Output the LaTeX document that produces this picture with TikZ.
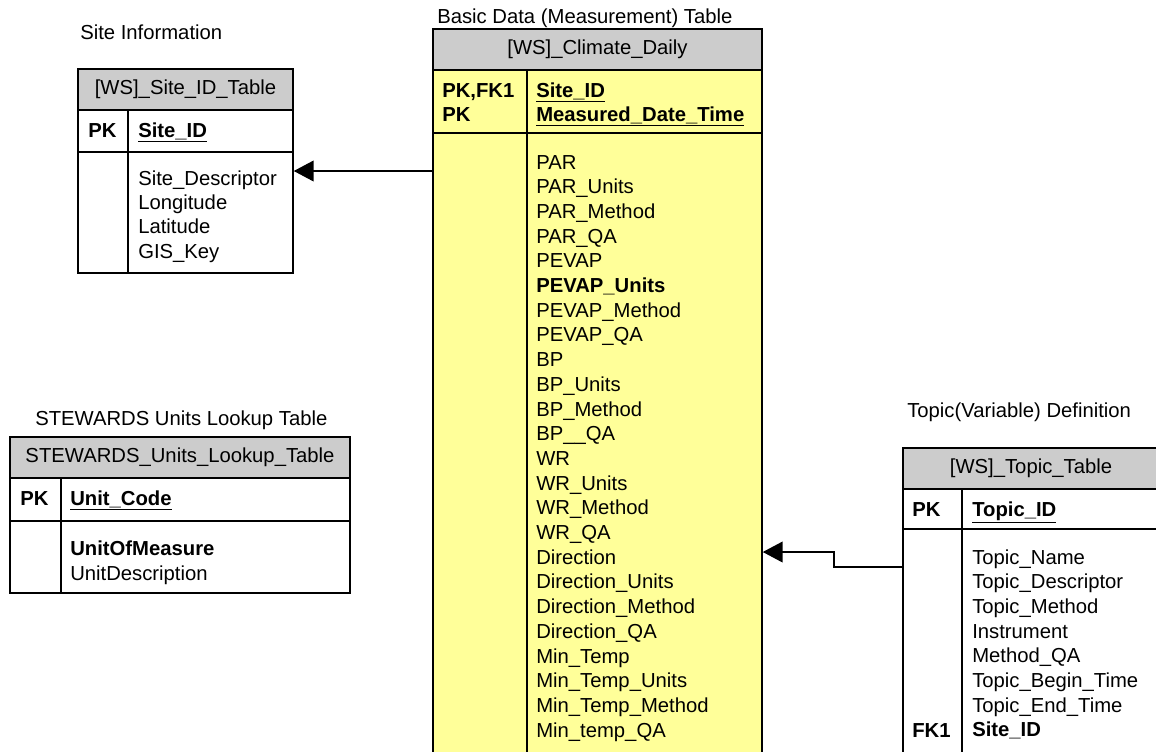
\documentclass[tikz,border=0pt]{standalone}
\usepackage{fontspec}
\setmainfont{Liberation Sans}
\usetikzlibrary{fit,arrows.meta}
\definecolor{hdrgray}{RGB}{204,204,204}
\definecolor{tblyellow}{RGB}{255,255,153}
\begin{document}
\begin{tikzpicture}[x=0.75pt,y=-0.75pt,
  cell/.style={draw=black,line width=1.1pt,inner sep=0pt},
  hdr/.style={cell,fill=hdrgray},
  ylw/.style={cell,fill=tblyellow},
  divl/.style={draw=black,line width=1.1pt},
  txt/.style={inner sep=0pt,anchor=base west,font=\fontsize{15.2}{18}\selectfont},
  ctxt/.style={inner sep=0pt,font=\fontsize{15.2}{18}\selectfont},
  conn/.style={line width=1.6pt,-{Triangle[length=15pt,width=15.5pt]}}]
\useasboundingbox (0,0) rectangle (1156,751);
\clip (0,0) rectangle (1156,751);

% ---------- Site table ----------
\node[txt] (sitetitle) at (80,39) {Site Information};
\node[hdr,fit={(78,69)(293,110)}] (sitehdr) {};
\node[cell,fit={(78,110)(293,152)}] (sitekey) {};
\node[cell,fit={(78,152)(293,273)}] (sitebody) {};
\draw[divl] (128,110) -- (128,273);
\node[ctxt] (sitehdrt) at (sitehdr.center) {[WS]\_Site\_ID\_Table};
\node[txt] (sitepk) at (88,137) {\textbf{PK}};
\node[txt] (sitepkf) at (138,137) {\textbf{\underline{Site\_ID}}};
\foreach \t [count=\i from 0] in {Site\_Descriptor,Longitude,Latitude,GIS\_Key}
  \node[txt] (sf\i) at (138,{185+24.4*\i}) {\t};

% ---------- Climate table ----------
\node[txt] (climtitle) at (437,23) {Basic Data (Measurement) Table};
\node[hdr,fit={(433,29)(762,70)}] (climhdr) {};
\node[ylw,fit={(433,70)(762,133)}] (climkey) {};
\node[ylw,fit={(433,133)(762,770)}] (climbody) {};
\draw[divl] (527,70) -- (527,770);
\node[ctxt] (climhdrt) at (climhdr.center) {[WS]\_Climate\_Daily};
\node[txt] (climpk1) at (442,97) {\textbf{PK,FK1}};
\node[txt] (climpk2) at (442,121) {\textbf{PK}};
\node[txt] (climpkf1) at (536,97) {\textbf{\underline{Site\_ID}}};
\node[txt] (climpkf2) at (536,121) {\textbf{\underline{Measured\_Date\_Time}}};
\foreach \t [count=\i from 0] in {PAR,PAR\_Units,PAR\_Method,PAR\_QA,PEVAP,{\textbf{PEVAP\_Units}},PEVAP\_Method,PEVAP\_QA,BP,BP\_Units,BP\_Method,BP\_\_QA,WR,WR\_Units,WR\_Method,WR\_QA,Direction,Direction\_Units,Direction\_Method,Direction\_QA,Min\_Temp,Min\_Temp\_Units,Min\_Temp\_Method,Min\_temp\_QA}
  \node[txt] (cf\i) at (536,{169+24.7*\i}) {\t};

% ---------- Units table ----------
\node[txt] (unittitle) at (35,425) {STEWARDS Units Lookup Table};
\node[hdr,fit={(10,437)(350,478)}] (unithdr) {};
\node[cell,fit={(10,478)(350,521)}] (unitkey) {};
\node[cell,fit={(10,521)(350,593)}] (unitbody) {};
\draw[divl] (61,478) -- (61,593);
\node[ctxt] (unithdrt) at (unithdr.center) {STEWARDS\_Units\_Lookup\_Table};
\node[txt] (unitpk) at (20,505) {\textbf{PK}};
\node[txt] (unitpkf) at (70,505) {\textbf{\underline{Unit\_Code}}};
\node[txt] (uf0) at (70,555) {\textbf{UnitOfMeasure}};
\node[txt] (uf1) at (70,580) {UnitDescription};

% ---------- Topic table ----------
\node[txt] (topictitle) at (907,417) {Topic(Variable) Definition};
\node[hdr,fit={(903,448)(1158,489)}] (topichdr) {};
\node[cell,fit={(903,489)(1158,529)}] (topickey) {};
\node[cell,fit={(903,529)(1158,770)}] (topicbody) {};
\draw[divl] (962,489) -- (962,770);
\node[ctxt] (topichdrt) at (1031,468.5) {[WS]\_Topic\_Table};
\node[txt] (topicpk) at (912,516) {\textbf{PK}};
\node[txt] (topicpkf) at (972,516) {\textbf{\underline{Topic\_ID}}};
\foreach \t [count=\i from 0] in {Topic\_Name,Topic\_Descriptor,Topic\_Method,Instrument,Method\_QA,Topic\_Begin\_Time,Topic\_End\_Time,{\textbf{Site\_ID}}}
  \node[txt] (tf\i) at (972,{564+24.7*\i}) {\t};
\node[txt] (topicfk) at (912,737) {\textbf{FK1}};

% ---------- Connectors ----------
\coordinate (a1) at (0,171);
\draw[conn] (climbody.west |- a1) -- (sitebody.east |- a1);
\coordinate (a2) at (834,567);
\coordinate (a3) at (834,552);
\draw[conn] (topicbody.west |- a2) -- (a2) -- (a3) -- (climbody.east |- a3);
\end{tikzpicture}
\end{document}
